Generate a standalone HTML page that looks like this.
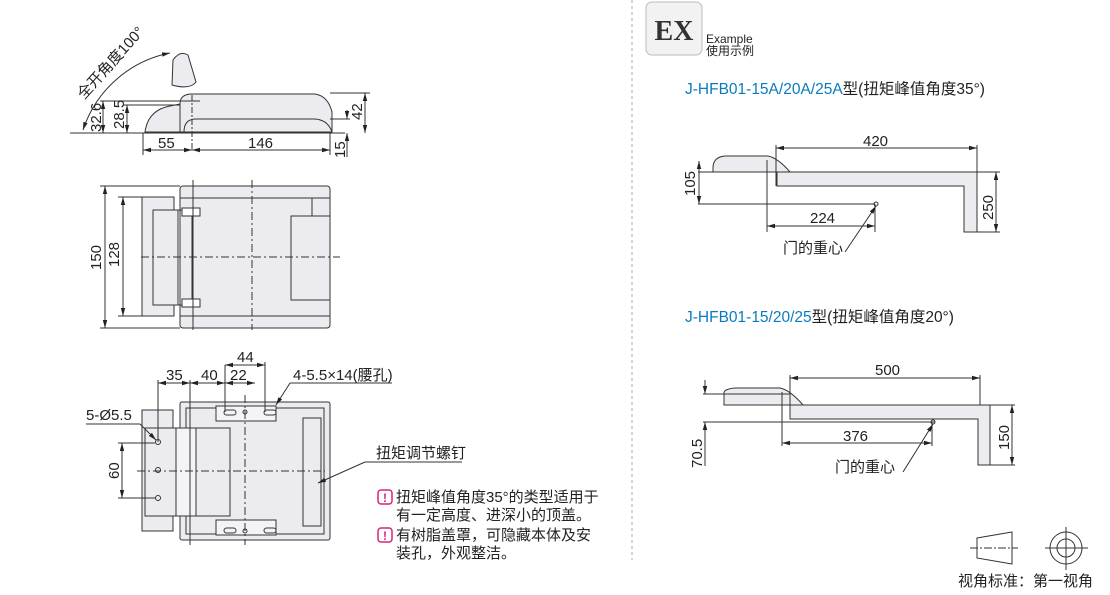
<!DOCTYPE html>
<html><head><meta charset="utf-8"><style>
body{margin:0;background:#fff;}
svg{display:block;font-family:"Liberation Sans","Noto Sans CJK SC",sans-serif;}
.t{font-size:15px;fill:#222}
</style></head><body>
<svg width="1110" height="595" viewBox="0 0 1110 595">
<defs>
<marker id="a" markerWidth="8" markerHeight="6" refX="8" refY="3" orient="auto-start-reverse" markerUnits="userSpaceOnUse"><path d="M0,0.8 L8,3 L0,5.2z" fill="#222"/></marker>
</defs>
<g stroke="#333" stroke-width="1" fill="none">
<line x1="632" y1="0" x2="632" y2="560" stroke="#aaa" stroke-dasharray="3,3"/>

<!-- TOP SIDE VIEW -->
<path d="M180,132 L180,104 Q180,94 192,94 L315,94 Q328,96 332,112 L332,132 Z" fill="#ececf0"/>
<path d="M184,132 Q184,119 196,119 L315,119 Q328,120 332,132" />
<path d="M145,132 Q148,110 170,106 L180,104 L180,132 Z" fill="#ececf0"/>
<path d="M173,60 Q180,50 188,55 L196,82 Q190,90 172,85 Z" fill="#ececf0"/>
<path d="M83,130 A115,115 0 0 1 170,53" marker-start="url(#a)" marker-end="url(#a)"/>
<line x1="70" y1="133" x2="345" y2="133"/>
<line x1="192" y1="95" x2="192" y2="150" stroke-dasharray="6,2,2,2"/>
<line x1="100" y1="101" x2="200" y2="101"/>
<line x1="124" y1="105" x2="180" y2="105"/>
<line x1="103" y1="101" x2="103" y2="133" marker-start="url(#a)" marker-end="url(#a)"/>
<line x1="127" y1="105" x2="127" y2="133" marker-start="url(#a)" marker-end="url(#a)"/>
<line x1="143" y1="133" x2="143" y2="155"/><line x1="330" y1="133" x2="330" y2="155"/>
<line x1="143" y1="150" x2="192" y2="150" marker-start="url(#a)" marker-end="url(#a)"/>
<line x1="192" y1="150" x2="330" y2="150" marker-start="url(#a)" marker-end="url(#a)"/>
<line x1="330" y1="93" x2="370" y2="93"/>
<line x1="330" y1="119" x2="350" y2="119"/>
<line x1="365" y1="93" x2="365" y2="133" marker-start="url(#a)" marker-end="url(#a)"/>
<line x1="347" y1="110" x2="347" y2="119" marker-end="url(#a)"/>
<line x1="347" y1="133" x2="347" y2="157" marker-start="url(#a)"/>

<!-- MIDDLE PLAN VIEW -->
<rect x="180" y="186" width="150" height="142" rx="3" fill="#ececf0"/>
<line x1="180" y1="198" x2="330" y2="198"/><line x1="180" y1="316" x2="330" y2="316"/>
<line x1="312" y1="198" x2="312" y2="216"/>
<rect x="291" y="216" width="39" height="84" fill="#ececf0"/>
<rect x="142" y="197" width="32" height="119" fill="#ececf0"/>
<path d="M153,210 L178,210 L178,305 L153,305 Z" fill="#ececf0"/>
<rect x="178" y="210" width="14" height="95"/>
<rect x="182" y="208" width="18" height="8" fill="#fff"/><rect x="182" y="299" width="18" height="8" fill="#fff"/>
<line x1="141" y1="257" x2="340" y2="257" stroke-dasharray="8,3,2,3"/>
<line x1="252" y1="180" x2="252" y2="330" stroke-dasharray="8,3,2,3"/>
<line x1="193" y1="180" x2="193" y2="330"/>
<line x1="100" y1="186" x2="180" y2="186"/><line x1="100" y1="328" x2="180" y2="328"/>
<line x1="118" y1="197" x2="142" y2="197"/><line x1="118" y1="316" x2="142" y2="316"/>
<line x1="105" y1="186" x2="105" y2="328" marker-start="url(#a)" marker-end="url(#a)"/>
<line x1="123" y1="197" x2="123" y2="316" marker-start="url(#a)" marker-end="url(#a)"/>

<!-- BOTTOM VIEW -->
<rect x="180" y="402" width="150" height="138" rx="2" fill="#ececf0"/>
<rect x="186" y="408" width="138" height="126"/>
<rect x="142" y="410" width="31" height="121" fill="#ececf0"/>
<rect x="145" y="428" width="35" height="88" fill="#ececf0"/>
<rect x="176" y="428" width="38" height="88" fill="#f4f4f6"/>
<rect x="196" y="428" width="34" height="88" fill="#ececf0"/>
<rect x="216" y="406" width="60" height="15" fill="#f4f4f6"/>
<rect x="216" y="520" width="60" height="15" fill="#f4f4f6"/>
<rect x="303" y="418" width="18" height="108"/>
<rect x="224" y="410" width="12" height="5" rx="2.5"/><rect x="264" y="410" width="12" height="5" rx="2.5"/>
<rect x="224" y="528" width="12" height="5" rx="2.5"/><rect x="264" y="528" width="12" height="5" rx="2.5"/>
<circle cx="158" cy="442" r="2.5"/><circle cx="158" cy="470" r="2.5"/><circle cx="158" cy="498" r="2.5"/>
<circle cx="245" cy="412" r="2"/><circle cx="245" cy="531" r="2"/>
<line x1="137" y1="471" x2="325" y2="471" stroke-dasharray="8,3,2,3"/>
<line x1="245" y1="395" x2="245" y2="545" stroke-dasharray="8,3,2,3"/>
<line x1="158" y1="380" x2="158" y2="442"/><line x1="190" y1="380" x2="190" y2="545"/>
<line x1="225" y1="365" x2="225" y2="412"/><line x1="265" y1="362" x2="265" y2="412"/>
<line x1="158" y1="383" x2="190" y2="383" marker-start="url(#a)" marker-end="url(#a)"/>
<line x1="190" y1="383" x2="225" y2="383" marker-start="url(#a)" marker-end="url(#a)"/>
<line x1="225" y1="383" x2="255" y2="383" marker-start="url(#a)" marker-end="url(#a)"/>
<line x1="225" y1="365" x2="265" y2="365" marker-start="url(#a)" marker-end="url(#a)"/>
<line x1="118" y1="443" x2="155" y2="443"/><line x1="118" y1="498" x2="155" y2="498"/>
<line x1="122" y1="443" x2="122" y2="498" marker-start="url(#a)" marker-end="url(#a)"/>
<line x1="86" y1="424" x2="140" y2="424"/><line x1="140" y1="424" x2="156" y2="440" marker-end="url(#a)"/>
<line x1="290" y1="383" x2="392" y2="383"/><line x1="290" y1="383" x2="276" y2="405" marker-end="url(#a)"/>
<line x1="365" y1="462" x2="462" y2="462"/><line x1="365" y1="462" x2="318" y2="483" marker-end="url(#a)"/>

<rect x="646" y="2" width="56" height="53" rx="6" fill="#f2f2f2" stroke="#bbb"/>

<!-- RIGHT TOP EXAMPLE -->
<path d="M713,168 Q713,157 725,156 L768,156 Q778,158 790,172 L713,172 Z" fill="#ececf0"/>
<path d="M777,172 L977,172 L977,232 L964,232 L964,186 L777,186 Z" fill="#ececf0"/>
<line x1="698" y1="172" x2="776" y2="172"/>
<line x1="776" y1="145" x2="776" y2="186"/>
<line x1="977" y1="145" x2="977" y2="172"/>
<line x1="776" y1="148" x2="977" y2="148" marker-start="url(#a)" marker-end="url(#a)"/>
<line x1="767" y1="160" x2="767" y2="232"/>
<line x1="698" y1="204" x2="875" y2="204"/>
<line x1="875" y1="204" x2="875" y2="232"/>
<line x1="699" y1="161" x2="699" y2="204" marker-start="url(#a)" marker-end="url(#a)"/>
<line x1="767" y1="226" x2="875" y2="226" marker-start="url(#a)" marker-end="url(#a)"/>
<circle cx="876" cy="204" r="2"/>
<line x1="845" y1="252" x2="876" y2="206" marker-end="url(#a)"/>
<line x1="777" y1="172" x2="1000" y2="172"/><line x1="977" y1="232" x2="1000" y2="232"/>
<line x1="996" y1="172" x2="996" y2="232" marker-start="url(#a)" marker-end="url(#a)"/>

<!-- RIGHT BOTTOM EXAMPLE -->
<path d="M724,393 Q724,389 735,388 L780,388 Q790,390 803,405 L724,405 Z" fill="#ececf0"/>
<path d="M790,405 L990,405 L990,465 L978,465 L978,419 L790,419 Z" fill="#ececf0"/>
<line x1="703" y1="394" x2="790" y2="394"/>
<line x1="703" y1="422" x2="935" y2="422"/>
<line x1="790" y1="375" x2="790" y2="419"/>
<line x1="980" y1="375" x2="980" y2="405"/>
<line x1="790" y1="378" x2="980" y2="378" marker-start="url(#a)" marker-end="url(#a)"/>
<line x1="782" y1="392" x2="782" y2="446"/>
<line x1="932" y1="422" x2="932" y2="446"/>
<line x1="782" y1="443" x2="932" y2="443" marker-start="url(#a)" marker-end="url(#a)"/>
<line x1="705" y1="380" x2="705" y2="394" marker-end="url(#a)"/>
<line x1="705" y1="422" x2="705" y2="466" marker-start="url(#a)"/>
<circle cx="933" cy="422" r="2"/>
<line x1="903" y1="472" x2="933" y2="424" marker-end="url(#a)"/>
<line x1="990" y1="405" x2="1015" y2="405"/><line x1="978" y1="465" x2="1015" y2="465"/>
<line x1="1012" y1="405" x2="1012" y2="465" marker-start="url(#a)" marker-end="url(#a)"/>

<path d="M977,538 L1012,532 L1012,564 L977,558 Z"/>
<line x1="970" y1="548" x2="1018" y2="548" stroke-dasharray="8,2,2,2"/>
<circle cx="1066" cy="548" r="16"/><circle cx="1066" cy="548" r="9"/>
<line x1="1045" y1="548" x2="1088" y2="548"/><line x1="1066" y1="527" x2="1066" y2="570"/>
</g>

<rect x="378" y="490" width="14" height="14" rx="3" fill="#fff" stroke="#d6257a" stroke-width="1.5"/>
<text x="385" y="502" font-size="12" fill="#d6257a" text-anchor="middle" font-weight="bold">!</text>
<rect x="378" y="528" width="14" height="14" rx="3" fill="#fff" stroke="#d6257a" stroke-width="1.5"/>
<text x="385" y="540" font-size="12" fill="#d6257a" text-anchor="middle" font-weight="bold">!</text>

<text class="t" transform="translate(84,100) rotate(-48)">全开角度100°</text>
<text class="t" transform="translate(101,132) rotate(-90)">32.6</text>
<text class="t" transform="translate(124,129) rotate(-90)">28.5</text>
<text class="t" x="158" y="148">55</text>
<text class="t" x="248" y="148">146</text>
<text class="t" transform="translate(362,120) rotate(-90)">42</text>
<text class="t" transform="translate(345,158) rotate(-90)">15</text>
<text class="t" transform="translate(101,270) rotate(-90)">150</text>
<text class="t" transform="translate(119,267) rotate(-90)">128</text>
<text class="t" x="166" y="380">35</text>
<text class="t" x="201" y="380">40</text>
<text class="t" x="230" y="380">22</text>
<text class="t" x="237" y="362">44</text>
<text class="t" x="293" y="380">4-5.5×14(腰孔)</text>
<text class="t" x="86" y="420">5-Ø5.5</text>
<text class="t" transform="translate(119,479) rotate(-90)">60</text>
<text class="t" x="376" y="458">扭矩调节螺钉</text>
<text class="t" x="396" y="502">扭矩峰值角度35°的类型适用于</text>
<text class="t" x="396" y="520">有一定高度、进深小的顶盖。</text>
<text class="t" x="396" y="540">有树脂盖罩，可隐藏本体及安</text>
<text class="t" x="396" y="558">装孔，外观整洁。</text>

<text x="674" y="40" font-family="Liberation Serif,serif" font-size="28" font-weight="bold" fill="#333" text-anchor="middle">EX</text>
<text x="706" y="43" font-size="12" fill="#222">Example</text>
<text x="706" y="55" font-size="12" fill="#222">使用示例</text>

<text x="685" y="94" font-size="15.5"><tspan fill="#0a7bc0">J-HFB01-15A/20A/25A</tspan><tspan fill="#222">型(扭矩峰值角度35°)</tspan></text>
<text class="t" x="863" y="146">420</text>
<text class="t" transform="translate(695,196) rotate(-90)">105</text>
<text class="t" x="810" y="223">224</text>
<text class="t" x="783" y="253">门的重心</text>
<text class="t" transform="translate(993,220) rotate(-90)">250</text>

<text x="685" y="322" font-size="15.5"><tspan fill="#0a7bc0">J-HFB01-15/20/25</tspan><tspan fill="#222">型(扭矩峰值角度20°)</tspan></text>
<text class="t" x="875" y="375">500</text>
<text class="t" transform="translate(702,468) rotate(-90)">70.5</text>
<text class="t" x="843" y="441">376</text>
<text class="t" x="835" y="472">门的重心</text>
<text class="t" transform="translate(1009,450) rotate(-90)">150</text>
<text class="t" x="958" y="586">视角标准：第一视角</text>
</svg>
</body></html>
